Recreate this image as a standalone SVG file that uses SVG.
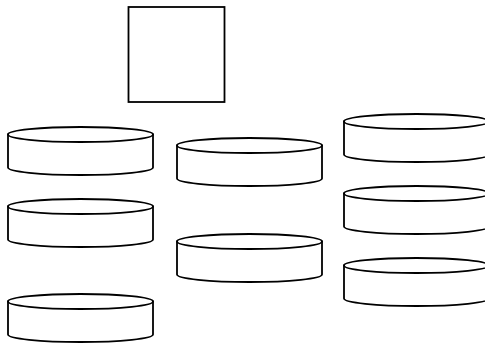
<svg xmlns="http://www.w3.org/2000/svg" xmlns:xlink="http://www.w3.org/1999/xlink" width="485" height="345" viewBox="0 0 485 345">
  <style>
    .s { fill: #ffffff; stroke: #000000; stroke-width: 1.8; }
  </style>
  <defs>
    <g id="cyl">
      <path class="s" d="M0,7.5 L0,40.5 A72.5,7.5 0 0 0 145,40.5 L145,7.5 Z"/>
      <ellipse class="s" cx="72.5" cy="7.5" rx="72.5" ry="7.5"/>
    </g>
  </defs>
  <rect width="485" height="345" fill="#ffffff"/>
  <g id="square"><rect class="s" x="128.5" y="7" width="96" height="95"/></g>
  <g id="disk-l1"><use xlink:href="#cyl" href="#cyl" transform="translate(8,127)"/></g>
  <g id="disk-l2"><use xlink:href="#cyl" href="#cyl" transform="translate(8,199)"/></g>
  <g id="disk-l3"><use xlink:href="#cyl" href="#cyl" transform="translate(8,294)"/></g>
  <g id="disk-m1"><use xlink:href="#cyl" href="#cyl" transform="translate(177,138)"/></g>
  <g id="disk-m2"><use xlink:href="#cyl" href="#cyl" transform="translate(177,234)"/></g>
  <g id="disk-r1"><use xlink:href="#cyl" href="#cyl" transform="translate(344,114)"/></g>
  <g id="disk-r2"><use xlink:href="#cyl" href="#cyl" transform="translate(344,186)"/></g>
  <g id="disk-r3"><use xlink:href="#cyl" href="#cyl" transform="translate(344,258)"/></g>
  <g id="connectors"></g>
</svg>
